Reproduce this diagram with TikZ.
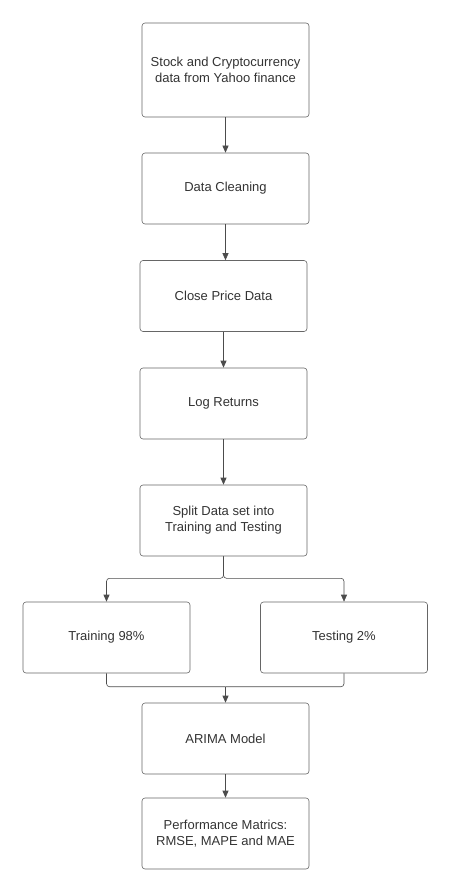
\documentclass[tikz,border=0pt]{standalone}
\usepackage{fontspec}
\setmainfont{Liberation Sans}
\usetikzlibrary{arrows.meta,calc}
\begin{document}
\begin{tikzpicture}[x=1pt,y=-1pt,
  box/.style={draw=black!60, line width=0.6pt, rounded corners=3pt, minimum width=167pt, minimum height=71pt, align=center, font=\fontsize{13}{16}\selectfont, text=black!80, inner sep=2pt},
  conn/.style={draw=black!70, line width=0.6pt},
  arr/.style={conn, -{Triangle[length=7pt,width=6pt]}}]
\useasboundingbox (0,0) rectangle (451,893);
\node[box, minimum height=94pt] (b1) at (225.5,70) {Stock and Cryptocurrency\\data from Yahoo finance};
\node[box] (b2) at (225.5,188.5) {Data Cleaning};
\node[box] (b3) at (223.5,296) {Close Price Data};
\node[box] (b4) at (223.5,403.5) {Log Returns};
\node[box] (b5) at (223.5,520.5) {Split Data set into\\Training and Testing};
\node[box] (tr) at (106.5,637.5) {Training 98\%};
\node[box] (te) at (344,637.5) {Testing 2\%};
\node[box] (ar) at (225.5,738.5) {ARIMA Model};
\node[box] (pf) at (225.5,833.5) {Performance Matrics:\\RMSE, MAPE and MAE};
\draw[arr] (b1.south) -- (b2.north);
\draw[arr] (b2.south) -- (b2.south |- b3.north);
\draw[arr] (b3.south) -- (b4.north);
\draw[arr] (b4.south) -- (b5.north);
\coordinate (sp) at ($(b5.south)+(0,22)$);
\draw[arr, rounded corners=3pt] (b5.south) -- (sp) -| (tr.north);
\draw[arr, rounded corners=3pt] (b5.south) -- (sp) -| (te.north);
\coordinate (mj) at ($(ar.north)+(0,-16)$);
\draw[conn, rounded corners=3pt] (tr.south) |- (mj);
\draw[conn, rounded corners=3pt] (te.south) |- (mj);
\draw[arr] (mj) -- (ar.north);
\draw[arr] (ar.south) -- (pf.north);
\end{tikzpicture}
\end{document}
